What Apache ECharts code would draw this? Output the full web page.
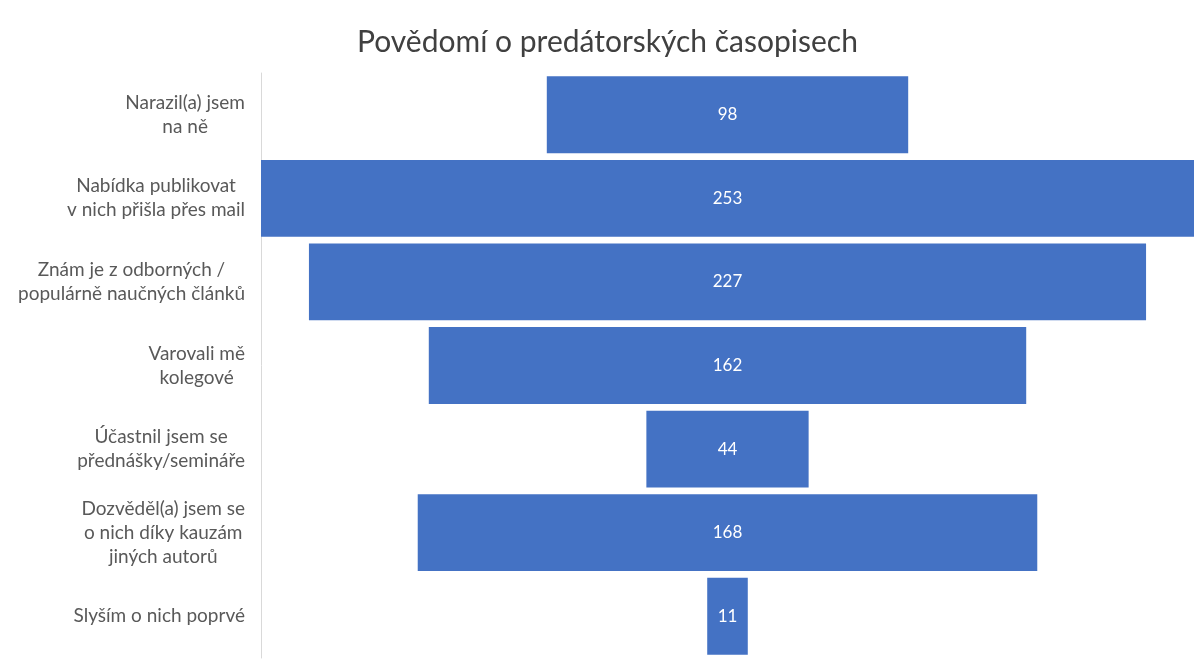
<!DOCTYPE html>
<html>
<head>
<meta charset="utf-8">
<script src="https://cdn.jsdelivr.net/npm/echarts@6/dist/echarts.min.js"></script>
<style>
  html, body { margin: 0; padding: 0; background: #fff; }
  #chart { width: 1198px; height: 661px; }
</style>
</head>
<body>
<div id="chart"></div>
<script>
  // kategorie a hodnoty trychtýře
  var categories = [
    'Narazil(a) jsem\nna ně',
    'Nabídka publikovat\nv nich přišla přes mail',
    'Znám je z odborných /\npopulárně naučných článků',
    'Varovali mě\nkolegové',
    'Účastnil jsem se\npřednášky/semináře',
    'Dozvěděl(a) jsem se\no nich díky kauzám\njiných autorů',
    'Slyším o nich poprvé'
  ];
  var values = [98, 253, 227, 162, 44, 168, 11];

  var maxValue = Math.max.apply(null, values);
  // neviditelný posun, aby byly pruhy vycentrované
  var offsets = values.map(function (v) { return (maxValue - v) / 2; });

  var chart = echarts.init(document.getElementById('chart'));
  chart.setOption({
    animation: false,
    title: {
      text: 'Povědomí o predátorských časopisech',
      left: 352,
      top: 22,
      textStyle: {
        fontFamily: 'Lato',
        fontSize: 30,
        fontWeight: 'normal',
        color: '#404040'
      }
    },
    grid: {
      left: 261,
      right: 4,
      top: 73,
      bottom: 3,
      containLabel: false
    },
    xAxis: {
      type: 'value',
      min: 0,
      max: maxValue,
      show: false
    },
    yAxis: {
      type: 'category',
      inverse: true,
      data: categories,
      axisLine: { show: true, lineStyle: { color: '#d9d9d9', width: 1 } },
      axisTick: { show: false },
      axisLabel: {
        margin: 16,
        fontFamily: 'Lato',
        fontSize: 19,
        color: '#595959',
        lineHeight: 24,
        formatter: function (val) {
          return val.split('\n').map(function (l) { return '{c|' + l + '}'; }).join('\n');
        },
        rich: {
          c: {
            align: 'center',
            fontFamily: 'Lato',
            fontSize: 19,
            color: '#595959',
            lineHeight: 24
          }
        }
      }
    },
    series: [
      {
        name: 'offset',
        type: 'bar',
        stack: 'funnel',
        data: offsets,
        itemStyle: { color: 'transparent' },
        silent: true,
        barCategoryGap: '8%'
      },
      {
        name: 'Počet',
        type: 'bar',
        stack: 'funnel',
        data: values,
        barCategoryGap: '8%',
        itemStyle: { color: '#4472C4' },
        label: {
          show: true,
          position: 'inside',
          color: '#ffffff',
          fontFamily: 'Lato',
          fontSize: 17
        }
      }
    ]
  });
</script>
</body>
</html>
